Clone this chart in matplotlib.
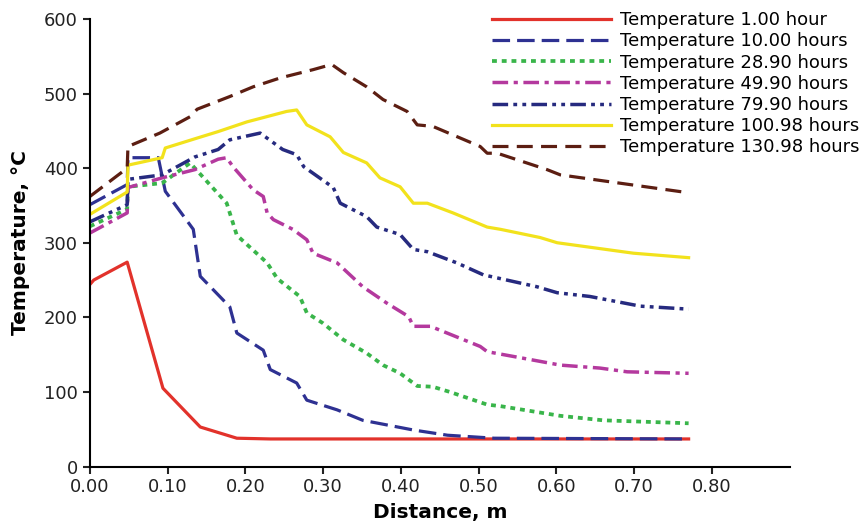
import numpy as np
import matplotlib
matplotlib.use("Agg")
import matplotlib.pyplot as plt

# distance (m) / temperature (C), one pair per curve
d_1h = [0, 0.005, 0.048, 0.094, 0.142, 0.189, 0.232, 0.77]
t_1h = [244, 250, 274, 105, 53, 38, 37, 37]

d_10h = [0, 0.048, 0.049, 0.088, 0.097, 0.133, 0.142, 0.18, 0.189, 0.223, 0.232,
         0.266, 0.279, 0.318, 0.351, 0.416, 0.46, 0.52, 0.77]
t_10h = [351, 378, 414, 414, 369, 318, 255, 214, 179, 156, 130,
         112, 89, 76, 62, 49, 42, 38, 37]

d_29h = [0, 0.048, 0.049, 0.093, 0.129, 0.135, 0.176, 0.189, 0.228, 0.241, 0.27, 0.279,
         0.3, 0.326, 0.356, 0.377, 0.399, 0.421, 0.441, 0.463, 0.511, 0.528, 0.605, 0.66, 0.77]
t_29h = [322, 345, 375, 380, 407, 400, 353, 310, 273, 252, 228, 206,
         192, 170, 152, 136, 125, 108, 107, 100, 83, 81, 68, 62, 58]

d_50h = [0, 0.048, 0.049, 0.093, 0.135, 0.165, 0.176, 0.184, 0.21, 0.223, 0.228, 0.236,
         0.261, 0.279, 0.287, 0.318, 0.351, 0.382, 0.41, 0.416, 0.438, 0.502, 0.511,
         0.553, 0.605, 0.656, 0.691, 0.77]
t_50h = [313, 340, 374, 387, 398, 412, 414, 402, 371, 362, 340, 331,
         318, 304, 286, 273, 241, 219, 201, 188, 188, 161, 154,
         146, 136, 132, 127, 125]

d_80h = [0, 0.048, 0.049, 0.093, 0.135, 0.165, 0.18, 0.219, 0.248, 0.266, 0.275, 0.313,
         0.322, 0.356, 0.369, 0.399, 0.416, 0.434, 0.472, 0.506, 0.575, 0.601, 0.643, 0.708, 0.77]
t_80h = [328, 351, 385, 391, 415, 425, 438, 447, 425, 418, 402, 374,
         353, 335, 321, 311, 291, 288, 273, 257, 241, 233, 228, 215, 211]

d_101h = [0, 0.048, 0.049, 0.093, 0.097, 0.137, 0.165, 0.202, 0.253, 0.266, 0.279, 0.309,
          0.326, 0.356, 0.373, 0.399, 0.416, 0.434, 0.467, 0.511, 0.528, 0.579, 0.601, 0.699, 0.77]
t_101h = [338, 368, 404, 414, 427, 440, 449, 462, 476, 478, 458, 442,
          421, 407, 387, 375, 353, 353, 340, 321, 318, 307, 300, 286, 280]

d_131h = [0, 0.048, 0.049, 0.09, 0.129, 0.138, 0.18, 0.21, 0.245, 0.287, 0.311, 0.326,
          0.356, 0.377, 0.408, 0.421, 0.441, 0.502, 0.511, 0.524, 0.588, 0.605, 0.77]
t_131h = [362, 400, 429, 447, 469, 479, 496, 509, 521, 532, 539, 528,
          509, 492, 476, 458, 456, 429, 420, 420, 398, 391, 367]

labels = ["Temperature 1.00 hour", "Temperature 10.00 hours", "Temperature 28.90 hours",
          "Temperature 49.90 hours", "Temperature 79.90 hours", "Temperature 100.98 hours",
          "Temperature 130.98 hours"]

fig = plt.figure(figsize=(8.64, 5.26), dpi=100)
ax = fig.add_axes([0.104, 0.113, 0.81, 0.851])

ax.plot(d_1h, t_1h, color="#e2322b", lw=2.3, label=labels[0])
ax.plot(d_10h, t_10h, color="#2e3192", lw=2.3, dashes=(5.5, 2.2), label=labels[1])
ax.plot(d_29h, t_29h, color="#39b54a", lw=2.7, dashes=(1.3, 1.3), label=labels[2])
ax.plot(d_50h, t_50h, color="#b4399e", lw=2.5, dashes=(4.5, 1.6, 1.2, 1.6), label=labels[3])
ax.plot(d_80h, t_80h, color="#262a7f", lw=2.5, dashes=(4.5, 1.5, 1.1, 1.5, 1.1, 1.5), label=labels[4])
ax.plot(d_101h, t_101h, color="#f2e21c", lw=2.3, label=labels[5])
ax.plot(d_131h, t_131h, color="#5c1e12", lw=2.3, dashes=(5, 2.6), label=labels[6])

ax.set_xlim(0, 0.9)
ax.set_ylim(0, 600)
ax.set_xticks(np.arange(0, 0.81, 0.1))
ax.set_xticklabels(["%.2f" % v for v in np.arange(0, 0.81, 0.1)])
ax.set_yticks(range(0, 601, 100))
ax.spines["top"].set_visible(False)
ax.spines["right"].set_visible(False)
ax.spines["left"].set_linewidth(1.5)
ax.spines["bottom"].set_linewidth(1.5)
ax.tick_params(direction="out", length=5, width=1.5, labelsize=13, colors="#222222")

ax.set_xlabel("Distance, m", fontsize=14.5, fontweight="bold", labelpad=5)
ax.set_ylabel("Temperature, \u00b0C", fontsize=14.5, fontweight="bold", labelpad=10)

leg = ax.legend(loc="upper left", bbox_to_anchor=(492 / 864, 1 - 11 / 526),
                bbox_transform=fig.transFigure, frameon=False, fontsize=13,
                handlelength=6.6, handletextpad=0.5, labelspacing=0.18,
                borderpad=0, borderaxespad=0)

plt.savefig("out.png", dpi=100)
